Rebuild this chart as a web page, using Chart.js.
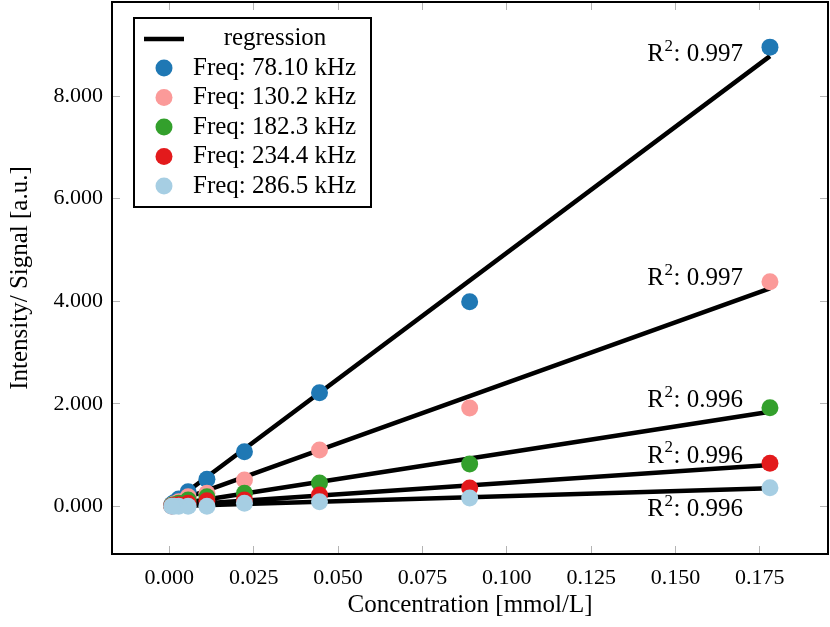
<!DOCTYPE html>
<html>
<head>
<meta charset="utf-8">
<script src="https://cdn.jsdelivr.net/npm/chart.js@4.4.1/dist/chart.umd.min.js"></script>
<style>
  html, body { margin: 0; padding: 0; background: #fff; }
  #wrap { position: relative; width: 830px; height: 627px; }
</style>
</head>
<body>
<div id="wrap"><canvas id="calibChart" width="830" height="627"></canvas></div>
<script>
(function() {
  'use strict';

  // dilution series, mmol/L
  var concentrations = [0.178, 0.089, 0.0445, 0.02225, 0.01113, 0.00556, 0.00278, 0.00139, 0.000695];

  var seriesNames = ['Freq: 78.10 kHz', 'Freq: 130.2 kHz', 'Freq: 182.3 kHz', 'Freq: 234.4 kHz', 'Freq: 286.5 kHz'];
  var seriesColors = ['#1f78b4', '#fb9a99', '#33a02c', '#e31a1c', '#a6cee3'];

  var signal78 = [8953, 3987, 2212, 1062, 526, 285, 140, 70, 35];
  var signal130 = [4378, 1917, 1097, 513, 253, 187, 90, 45, 22];
  var signal182 = [1922, 825, 454, 253, 187, 123, 60, 30, 15];
  var signal234 = [838, 357, 220, 123, 109, 60, 30, 15, 8];
  var signal286 = [363, 162, 90, 58, 0, 0, 0, 0, 0];
  var signals = [signal78, signal130, signal182, signal234, signal286];

  // regression lines: value at x=0 and at x=0.178
  var regX = [0, 0.178];
  var regStart = [26, 47, 20, 10, 0];
  var regEnd = [8778, 4250, 1844, 805, 351];
  var r2Values = ['0.997', '0.997', '0.996', '0.996', '0.996'];

  var xTicks = [0, 0.025, 0.05, 0.075, 0.1, 0.125, 0.15, 0.175];
  var yTicks = [0, 2000, 4000, 6000, 8000];
  var yTickLabels = ['0.000', '2.000', '4.000', '6.000', '8.000'];

  var FONT = '"Liberation Serif", "Times New Roman", serif';
  var TEXT_SIZE = 25;
  var TICK_SIZE = 22;

  // one dataset for all fit lines, split by null gaps
  var regData = [];
  for (var r = 0; r < regStart.length; r++) {
    regData.push({ x: regX[0], y: regStart[r] });
    regData.push({ x: regX[1], y: regEnd[r] });
    regData.push({ x: regX[1], y: null });
  }

  var datasets = [{
    type: 'line',
    label: 'regression',
    data: regData,
    borderColor: '#000',
    borderWidth: 4.5,
    pointRadius: 0,
    spanGaps: false,
    order: 10
  }];

  for (var s = 0; s < signals.length; s++) {
    datasets.push({
      type: 'scatter',
      label: seriesNames[s],
      data: concentrations.map(function(c, i) { return { x: c, y: this[i] }; }, signals[s]),
      backgroundColor: seriesColors[s],
      borderColor: seriesColors[s],
      borderWidth: 0,
      pointRadius: 8.5,
      order: 5 - s
    });
  }

  var tickGrid = {
    drawOnChartArea: false,
    drawTicks: true,
    tickLength: -8,
    tickColor: '#b4b4b4',
    tickWidth: 1
  };
  var frame = { display: true, color: '#000', width: 2 };

  function fixHeight(h) {
    return function(scale) {
      scale.height = h;
      scale.paddingLeft = 0;
      scale.paddingRight = 0;
    };
  }
  function fixWidth(w) {
    return function(scale) {
      scale.width = w;
      scale.paddingTop = 0;
      scale.paddingBottom = 0;
    };
  }

  var legendPlugin = {
    id: 'boxLegend',
    afterDraw: function(chart) {
      var c = chart.ctx;
      var a = chart.chartArea;
      var bx = a.left + 22, by = a.top + 16, bw = 237, bh = 189;
      c.save();
      c.fillStyle = '#fff';
      c.fillRect(bx, by, bw, bh);
      c.strokeStyle = '#000';
      c.lineWidth = 2;
      c.strokeRect(bx, by, bw, bh);

      c.font = TEXT_SIZE + 'px ' + FONT;
      c.fillStyle = '#000';
      c.textBaseline = 'middle';

      // regression sample
      c.beginPath();
      c.lineWidth = 4.5;
      c.moveTo(bx + 10, by + 21);
      c.lineTo(bx + 50, by + 21);
      c.stroke();
      c.textAlign = 'center';
      c.fillText('regression', bx + 141, by + 20);

      c.textAlign = 'left';
      for (var i = 0; i < seriesNames.length; i++) {
        var ry = by + 50 + i * 29.5;
        c.beginPath();
        c.fillStyle = seriesColors[i];
        c.arc(bx + 30, ry, 8.5, 0, Math.PI * 2);
        c.fill();
        c.fillStyle = '#000';
        c.fillText(seriesNames[i], bx + 59, ry);
      }
      c.restore();
    }
  };

  var r2Plugin = {
    id: 'r2Labels',
    afterDatasetsDraw: function(chart) {
      var c = chart.ctx;
      var xs = chart.scales.x, ys = chart.scales.y;
      var dy = [-2, -10, -11, -9, 21];
      c.save();
      c.fillStyle = '#000';
      c.textBaseline = 'middle';
      c.textAlign = 'left';
      for (var i = 0; i < regEnd.length; i++) {
        var right = xs.getPixelForValue(regX[1]) - 28;
        var y = ys.getPixelForValue(regEnd[i]) + dy[i];
        var tail = ': ' + r2Values[i];
        c.font = TEXT_SIZE + 'px ' + FONT;
        var wR = c.measureText('R').width;
        var wT = c.measureText(tail).width;
        c.font = '17px ' + FONT;
        var w2 = c.measureText('2').width;
        var left = right - wR - w2 - wT;
        c.font = TEXT_SIZE + 'px ' + FONT;
        c.fillText('R', left, y);
        c.font = '17px ' + FONT;
        c.fillText('2', left + wR + 0.5, y - 8);
        c.font = TEXT_SIZE + 'px ' + FONT;
        c.fillText(tail, left + wR + w2 + 1, y);
      }
      c.restore();
    }
  };

  var chart = new Chart(document.getElementById('calibChart'), {
    data: { datasets: datasets },
    plugins: [r2Plugin, legendPlugin],
    options: {
      responsive: false,
      animation: false,
      devicePixelRatio: 1,
      layout: { padding: 0, autoPadding: false },
      plugins: {
        legend: { display: false },
        tooltip: { enabled: false }
      },
      scales: {
        x: {
          type: 'linear',
          position: 'bottom',
          min: -0.0170,
          max: 0.1952,
          afterBuildTicks: function(scale) {
            scale.ticks = xTicks.map(function(v) { return { value: v }; });
          },
          afterFit: fixHeight(73),
          ticks: {
            padding: 19,
            maxRotation: 0,
            autoSkip: false,
            color: '#000',
            font: { family: FONT, size: TICK_SIZE },
            callback: function(v) { return v.toFixed(3); }
          },
          grid: tickGrid,
          border: frame,
          title: {
            display: true,
            text: 'Concentration [mmol/L]',
            color: '#000',
            font: { family: FONT, size: TEXT_SIZE },
            padding: { top: 0, bottom: 7 }
          }
        },
        y: {
          type: 'linear',
          position: 'left',
          min: -930,
          max: 9833,
          afterBuildTicks: function(scale) {
            scale.ticks = yTicks.map(function(v) { return { value: v }; });
          },
          afterFit: fixWidth(112),
          ticks: {
            padding: 17,
            autoSkip: false,
            color: '#000',
            font: { family: FONT, size: TICK_SIZE },
            callback: function(v) { return yTickLabels[yTicks.indexOf(v)]; }
          },
          grid: tickGrid,
          border: frame,
          title: {
            display: true,
            text: 'Intensity/ Signal [a.u.]',
            color: '#000',
            font: { family: FONT, size: TEXT_SIZE },
            padding: { top: 5, bottom: 0 }
          }
        },
        x2: {
          type: 'linear',
          position: 'top',
          min: -0.0170,
          max: 0.1952,
          afterBuildTicks: function(scale) {
            scale.ticks = xTicks.map(function(v) { return { value: v }; });
          },
          afterFit: fixHeight(2),
          ticks: { display: false },
          grid: tickGrid,
          border: frame
        },
        y2: {
          type: 'linear',
          position: 'right',
          min: -930,
          max: 9833,
          afterBuildTicks: function(scale) {
            scale.ticks = yTicks.map(function(v) { return { value: v }; });
          },
          afterFit: fixWidth(2),
          ticks: { display: false },
          grid: tickGrid,
          border: frame
        }
      }
    }
  });

}());
</script>
</body>
</html>
